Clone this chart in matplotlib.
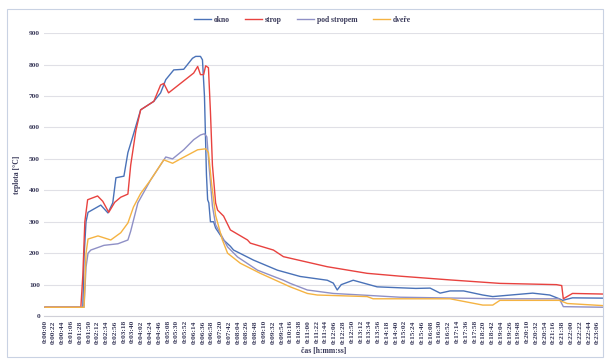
import matplotlib
matplotlib.use("Agg")
import matplotlib.pyplot as plt
from matplotlib.patches import Rectangle

# time in seconds, temperature in °C
okno_t = [0, 95, 98, 103, 108, 140, 158, 170, 178, 198, 208, 220, 240, 273, 290, 303,
          323, 348, 370, 378, 390, 395, 400, 405, 408, 411, 415, 423, 428, 448, 465, 473,
          523, 583, 640, 708, 723, 733, 743, 773, 833, 890, 930, 966, 991, 1016, 1050,
          1098, 1123, 1141, 1223, 1266, 1290, 1298, 1323, 1404]
okno_v = [28, 28, 188, 300, 330, 353, 328, 360, 440, 445, 520, 570, 656, 683, 710, 752,
          783, 785, 820, 826, 826, 815, 700, 450, 370, 360, 300, 300, 280, 242, 222, 210,
          178, 146, 126, 114, 105, 83, 100, 114, 93, 90, 88, 89, 73, 80, 80,
          67, 62, 64, 73, 67, 55, 50, 58, 57]

strop_t = [0, 90, 95, 100, 107, 132, 145, 160, 175, 190, 208, 215, 228, 240, 273, 290,
           298, 310, 340, 373, 383, 390, 398, 403, 410, 415, 420, 428, 433, 448, 465, 508,
           515, 573, 598, 708, 808, 890, 1016, 1141, 1283, 1296, 1300, 1323, 1404]
strop_v = [28, 28, 130, 300, 370, 382, 365, 330, 362, 378, 388, 480, 590, 656, 683, 735,
           740, 710, 740, 773, 794, 768, 768, 796, 790, 650, 480, 360, 337, 318, 274, 242,
           232, 210, 189, 157, 136, 127, 115, 104, 100, 97, 55, 72, 70]

pod_t = [0, 98, 103, 108, 115, 148, 183, 208, 215, 233, 265, 303, 320, 348, 373, 390,
         400, 406, 412, 420, 428, 440, 458, 483, 533, 598, 615, 658, 723, 808, 890, 1141,
         1290, 1300, 1404]
pod_v = [28, 28, 156, 200, 210, 225, 230, 242, 270, 360, 433, 506, 500, 529, 561, 576,
         580, 570, 470, 350, 290, 263, 220, 188, 146, 114, 104, 83, 72, 66, 60, 55,
         55, 30, 28]

dvere_t = [0, 98, 103, 108, 133, 165, 190, 208, 222, 240, 265, 298, 320, 340, 383, 403,
           410, 418, 428, 445, 458, 490, 540, 615, 658, 683, 808, 823, 890, 1016, 1098,
           1123, 1141, 1290, 1310, 1404]
dvere_v = [28, 28, 200, 245, 255, 242, 265, 296, 347, 390, 433, 497, 486, 500, 529, 532,
           520, 420, 320, 242, 200, 168, 136, 93, 72, 67, 62, 55, 55, 55, 35,
           35, 50, 50, 40, 33]

tick_step = 22
tick_secs = list(range(0, 1387, tick_step))
tick_labels = [f"{s // 3600}:{(s // 60) % 60:02d}:{s % 60:02d}" for s in tick_secs]

font = "Liberation Serif"
txt_col = "#3a3a5a"

fig = plt.figure(figsize=(6.05, 3.6), dpi=100)
fig.patches.append(Rectangle((0.012, 0.008), 0.985, 0.966, transform=fig.transFigure,
                             fill=False, edgecolor="#c9d2e3", linewidth=0.8))
ax = fig.add_axes([0.073, 0.122, 0.924, 0.786])

ax.plot(okno_t, okno_v, color="#4a72b8", lw=1.0, label="okno")
ax.plot(strop_t, strop_v, color="#e8423f", lw=1.0, label="strop")
ax.plot(pod_t, pod_v, color="#8f90c6", lw=1.0, label="pod stropem")
ax.plot(dvere_t, dvere_v, color="#f5b342", lw=1.0, label="dveře")

ax.set_xlim(-2, 1400)
ax.set_ylim(0, 900)
ax.set_yticks(range(0, 901, 100))
ax.set_xticks(tick_secs)
ax.set_xticklabels(tick_labels, rotation=90, fontsize=5.3, family=font,
                   fontweight="bold", color=txt_col)
for lab in ax.get_yticklabels():
    lab.set_fontsize(5.3)
    lab.set_family(font)
    lab.set_fontweight("bold")
    lab.set_color(txt_col)
ax.tick_params(length=0, pad=3)
ax.grid(axis="y", color="#e0e0e6", lw=0.8)
ax.set_axisbelow(True)
for side in ["top", "right", "left"]:
    ax.spines[side].set_visible(False)
ax.spines["bottom"].set_color("#d0d0d8")
ax.spines["bottom"].set_linewidth(0.8)

ax.set_ylabel("teplota [°C]", fontsize=5.5, family=font, fontweight="bold",
              color=txt_col, labelpad=6)
ax.set_xlabel("čas [h:mm:ss]", fontsize=5.5, family=font, fontweight="bold",
              color=txt_col, labelpad=2)

fig.legend(loc="center", bbox_to_anchor=(0.5, 0.945), ncol=4, frameon=False,
           prop={"family": font, "weight": "bold", "size": 5.5},
           handlelength=2.2, columnspacing=2.0, handletextpad=0.4,
           labelcolor=txt_col)

fig.savefig("out.png", dpi=100)
